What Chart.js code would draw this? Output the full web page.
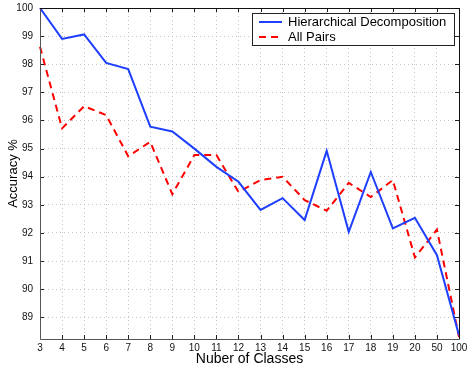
<!DOCTYPE html>
<html>
<head>
<meta charset="utf-8">
<script src="https://cdn.jsdelivr.net/npm/chart.js@4/dist/chart.umd.min.js"></script>
<style>
    html, body { margin: 0; padding: 0; background: #fff; }
    canvas { display: block; }
</style>
</head>
<body>
<canvas id="accChart" width="471" height="369"></canvas>
<script>
const classCounts = ['3', '4', '5', '6', '7', '8', '9', '10', '11', '12', '13', '14', '15', '16', '17', '18', '19', '20', '50', '100'];
const hierarchical = [100, 98.90, 99.06, 98.05, 97.83, 95.78, 95.61, 95.0, 94.35, 93.82, 92.82, 93.24, 92.46, 94.92, 92.04, 94.17, 92.16, 92.54, 91.21, 88.36];
const allPairs = [98.62, 95.72, 96.51, 96.19, 94.73, 95.24, 93.38, 94.77, 94.77, 93.46, 93.88, 94.0, 93.17, 92.79, 93.78, 93.28, 93.88, 91.13, 92.12, 88.30];
const yTicks = [89, 90, 91, 92, 93, 94, 95, 96, 97, 98, 99, 100];

const FONT = "'Liberation Sans', Arial, Helvetica, sans-serif";

// box around the plot plus small inward tick marks (matlab style)
const frame = {
    id: 'frame',
    afterDraw(chart) {
        const { ctx, chartArea: a, scales } = chart;
        ctx.save();
        ctx.strokeStyle = '#222';
        ctx.lineWidth = 1;
        ctx.beginPath();
        scales.x.ticks.forEach((t, i) => {
            const px = Math.round(scales.x.getPixelForTick(i)) + 0.5;
            ctx.moveTo(px, a.bottom); ctx.lineTo(px, a.bottom - 4);
            ctx.moveTo(px, a.top); ctx.lineTo(px, a.top + 4);
        });
        scales.y.ticks.forEach(t => {
            const py = Math.round(scales.y.getPixelForValue(t.value)) + 0.5;
            ctx.moveTo(a.left, py); ctx.lineTo(a.left + 4, py);
            ctx.moveTo(a.right, py); ctx.lineTo(a.right - 4, py);
        });
        ctx.stroke();
        ctx.strokeStyle = '#555';
        ctx.beginPath();
        ctx.moveTo(Math.round(a.left) + 0.5, a.top);
        ctx.lineTo(Math.round(a.left) + 0.5, Math.round(a.bottom) + 0.5);
        ctx.lineTo(a.right, Math.round(a.bottom) + 0.5);
        ctx.stroke();
        ctx.strokeStyle = '#111';
        ctx.beginPath();
        ctx.moveTo(Math.round(a.left), Math.round(a.top) + 0.5);
        ctx.lineTo(Math.round(a.right) + 0.5, Math.round(a.top) + 0.5);
        ctx.lineTo(Math.round(a.right) + 0.5, Math.round(a.bottom) + 0.5);
        ctx.stroke();
        ctx.restore();
    }
};

// legend box in the upper right corner of the plot
const insideLegend = {
    id: 'insideLegend',
    afterDraw(chart) {
        const { ctx, chartArea: a } = chart;
        const x0 = a.right - 207, y0 = a.top + 5, w = 202, h = 32;
        ctx.save();
        ctx.fillStyle = '#fff';
        ctx.fillRect(x0, y0, w, h);
        ctx.strokeStyle = '#222';
        ctx.lineWidth = 1;
        ctx.strokeRect(x0 + 0.5, y0 + 0.5, w, h);
        ctx.font = '13px ' + FONT;
        ctx.textBaseline = 'middle';
        chart.data.datasets.forEach((ds, i) => {
            const y = y0 + 9 + i * 15;
            ctx.strokeStyle = ds.borderColor;
            ctx.lineWidth = ds.borderWidth;
            ctx.setLineDash(ds.borderDash || []);
            ctx.beginPath();
            ctx.moveTo(x0 + 7, y);
            ctx.lineTo(x0 + 30, y);
            ctx.stroke();
            ctx.setLineDash([]);
            ctx.fillStyle = '#000';
            ctx.fillText(ds.label, x0 + 36, y);
        });
        ctx.restore();
    }
};

new Chart(document.getElementById('accChart'), {
    type: 'line',
    data: {
        labels: classCounts,
        datasets: [
            {
                label: 'Hierarchical Decomposition',
                data: hierarchical,
                borderColor: '#1f3fff',
                borderWidth: 2,
                pointRadius: 0,
                tension: 0,
                fill: false
            },
            {
                label: 'All Pairs',
                data: allPairs,
                borderColor: '#ff0000',
                borderWidth: 2,
                borderDash: [7, 5],
                pointRadius: 0,
                tension: 0,
                fill: false
            }
        ]
    },
    options: {
        responsive: false,
        animation: false,
        layout: { padding: { left: 0, right: 12, top: 8, bottom: 0 } },
        plugins: {
            legend: { display: false },
            tooltip: { enabled: false }
        },
        scales: {
            x: {
                offset: false,
                grid: { color: '#c4c4c4', drawTicks: false },
                border: { display: false, dash: [1, 3] },
                ticks: { font: { family: FONT, size: 10 }, color: '#111', padding: 3, maxRotation: 0, autoSkip: false },
                title: { display: true, text: 'Nuber of Classes', font: { family: FONT, size: 14 }, color: '#000', padding: { top: 0, bottom: 1 } },
                afterFit(scale) { scale.height = 30; }
            },
            y: {
                min: 88.23,
                max: 100,
                grid: { color: '#c4c4c4', drawTicks: false },
                border: { display: false, dash: [1, 3] },
                ticks: { font: { family: FONT, size: 10 }, color: '#111', padding: 7 },
                afterBuildTicks(scale) { scale.ticks = yTicks.map(v => ({ value: v })); },
                title: { display: true, text: 'Accuracy %', font: { family: FONT, size: 13 }, color: '#000', padding: { top: 6, bottom: 0 } },
                afterFit(scale) {
                    scale.width = 40;
                    scale.paddingTop = 0;
                    scale.paddingBottom = 0;
                }
            }
        }
    },
    plugins: [frame, insideLegend]
});
</script>
</body>
</html>
